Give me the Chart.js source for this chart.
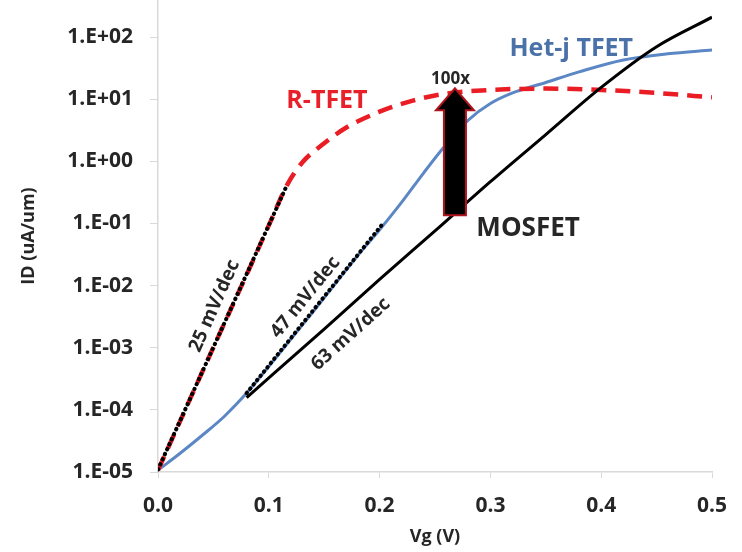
<!DOCTYPE html>
<html>
<head>
<meta charset="utf-8">
<title>ID vs Vg</title>
<script src="https://cdn.jsdelivr.net/npm/chart.js@4/dist/chart.umd.min.js"></script>
<style>
    body { margin: 0; background: #ffffff; }
    canvas { display: block; }
</style>
</head>
<body>
<canvas id="chart-idvg" width="742" height="552"></canvas>
<script>
// Values (Vg in V, ID in uA/um)
const rtfetVg = [0, 0.02, 0.04, 0.06, 0.08, 0.1, 0.116, 0.13, 0.15, 0.17, 0.2, 0.23, 0.26, 0.3, 0.35, 0.4, 0.45, 0.5];
const rtfetId = [1.07e-5, 6.6e-5, 4.1e-4, 2.5e-3, 1.5e-2, 9.3e-2, 0.40, 0.95, 1.95, 3.5, 6.3, 9.5, 12.3, 14.1, 14.8, 14.1, 12.6, 10.7];

const hetjVg = [0, 0.02, 0.04, 0.06, 0.08, 0.1, 0.12, 0.14, 0.16, 0.18, 0.2, 0.22, 0.24, 0.26, 0.28, 0.3, 0.32, 0.35, 0.38, 0.42, 0.46, 0.5];
const hetjId = [1.07e-5, 2.0e-5, 3.9e-5, 7.9e-5, 1.86e-4, 5.0e-4, 1.38e-3, 3.8e-3, 1.07e-2, 3.0e-2, 7.9e-2, 0.22, 0.66, 1.86, 4.6, 8.5, 12.6, 18.6, 27.5, 42.7, 53.7, 61.7];

const mosfetVg = [0.08, 0.15, 0.2, 0.25, 0.3, 0.35, 0.4, 0.45, 0.5];
const mosfetId = [1.58e-4, 2.0e-3, 1.26e-2, 7.6e-2, 0.47, 2.7, 15.5, 70, 209];

// slope fit lines (dotted)
const fit25Vg = [0, 0.116];
const fit25Id = [1.1e-5, 0.40];
const fit47Vg = [0.08, 0.203];
const fit47Id = [1.86e-4, 0.1];

// 100x arrow
const arrowVg = 0.268;
const arrowFromId = 0.135;
const arrowToId = 15;

const yTickValues = [1e-5, 1e-4, 1e-3, 1e-2, 1e-1, 1e0, 1e1, 1e2];

const fontFamily = "'Open Sans', 'Liberation Sans', sans-serif";
const textColor = "#262626";
const axisColor = "#d9d9d9";

function toPoints(xs, ys) {
    return xs.map((x, i) => ({ x: x, y: ys[i] }));
}

function formatExp(value) {
    const e = Math.round(Math.log10(value));
    return "1.E" + (e < 0 ? "-" : "+") + String(Math.abs(e)).padStart(2, "0");
}

// text labels placed in data space
const notes = [
    { text: "R-TFET", x: 0.1525, y: 9.3, color: "#e8202a", size: 25, angle: 0 },
    { text: "100x", x: 0.264, y: 21, color: textColor, size: 17, angle: 0 },
    { text: "Het-j TFET", x: 0.373, y: 64, color: "#4a72a8", size: 25, angle: 0 },
    { text: "MOSFET", x: 0.334, y: 0.083, color: textColor, size: 26, angle: 0 },
    { text: "25 mV/dec", x: 0.051, y: 4.7e-3, color: textColor, size: 19, angle: -66 },
    { text: "47 mV/dec", x: 0.133, y: 6.5e-3, color: textColor, size: 19, angle: -51 },
    { text: "63 mV/dec", x: 0.174, y: 1.66e-3, color: textColor, size: 19, angle: -42 }
];

const annotationPlugin = {
    id: "annotations",
    afterDatasetsDraw(chart) {
        const ctx = chart.ctx;
        const xScale = chart.scales.x;
        const yScale = chart.scales.y;

        // arrow
        const ax = xScale.getPixelForValue(arrowVg);
        const yTop = yScale.getPixelForValue(arrowToId);
        const yBottom = yScale.getPixelForValue(arrowFromId);
        const shaft = 11;
        const head = 19;
        const headLen = 22;
        ctx.save();
        ctx.beginPath();
        ctx.moveTo(ax - shaft, yBottom);
        ctx.lineTo(ax - shaft, yTop + headLen);
        ctx.lineTo(ax - head, yTop + headLen);
        ctx.lineTo(ax, yTop);
        ctx.lineTo(ax + head, yTop + headLen);
        ctx.lineTo(ax + shaft, yTop + headLen);
        ctx.lineTo(ax + shaft, yBottom);
        ctx.closePath();
        ctx.fillStyle = "#000000";
        ctx.fill();
        ctx.lineWidth = 2;
        ctx.strokeStyle = "#b0141c";
        ctx.stroke();
        ctx.restore();

        notes.forEach(note => {
            const px = xScale.getPixelForValue(note.x);
            const py = yScale.getPixelForValue(note.y);
            ctx.save();
            ctx.translate(px, py);
            ctx.rotate(note.angle * Math.PI / 180);
            ctx.font = "bold " + note.size + "px " + fontFamily;
            ctx.fillStyle = note.color;
            ctx.textAlign = "center";
            ctx.textBaseline = "middle";
            ctx.fillText(note.text, 0, 0);
            ctx.restore();
        });
    }
};

document.addEventListener("DOMContentLoaded", () => {
    const canvas = document.getElementById("chart-idvg").getContext("2d");

    const dottedStyle = {
        borderColor: "#000000",
        borderWidth: 4,
        borderDash: [0.5, 5],
        borderCapStyle: "round",
        pointRadius: 0,
        tension: 0
    };

    new Chart(canvas, {
        type: "line",
        data: {
            datasets: [
                { label: "25 mV/dec", data: toPoints(fit25Vg, fit25Id), ...dottedStyle },
                { label: "47 mV/dec", data: toPoints(fit47Vg, fit47Id), ...dottedStyle },
                {
                    label: "MOSFET",
                    data: toPoints(mosfetVg, mosfetId),
                    borderColor: "#000000",
                    borderWidth: 3,
                    pointRadius: 0,
                    cubicInterpolationMode: "monotone"
                },
                {
                    label: "R-TFET",
                    data: toPoints(rtfetVg, rtfetId),
                    borderColor: "#ea1c24",
                    borderWidth: 4.5,
                    borderDash: [15, 9],
                    pointRadius: 0,
                    cubicInterpolationMode: "monotone"
                },
                {
                    label: "Het-j TFET",
                    data: toPoints(hetjVg, hetjId),
                    borderColor: "#5b87c4",
                    borderWidth: 3,
                    pointRadius: 0,
                    cubicInterpolationMode: "monotone"
                }
            ]
        },
        options: {
            responsive: false,
            animation: false,
            devicePixelRatio: 1,
            layout: { padding: { left: 0, right: 30, top: 0, bottom: 0 } },
            plugins: {
                legend: { display: false },
                tooltip: { enabled: false }
            },
            scales: {
                x: {
                    type: "linear",
                    min: 0,
                    max: 0.5,
                    border: { color: axisColor, width: 1.5 },
                    grid: { drawOnChartArea: false, color: axisColor, tickLength: 6 },
                    ticks: {
                        stepSize: 0.1,
                        maxRotation: 0,
                        padding: 15,
                        color: textColor,
                        font: { family: fontFamily, size: 21, weight: "bold" },
                        callback: v => v.toFixed(1)
                    },
                    title: {
                        display: true,
                        text: "Vg (V)",
                        color: textColor,
                        padding: { top: 0, bottom: 4 },
                        font: { family: fontFamily, size: 18, weight: "bold" }
                    },
                    afterFit: scale => {
                        scale.height = 80;
                        scale.paddingLeft = 0;
                        scale.paddingRight = 0;
                    }
                },
                y: {
                    type: "logarithmic",
                    min: 1e-5,
                    max: 395,
                    border: { color: axisColor, width: 1.5 },
                    grid: { drawOnChartArea: false, color: axisColor, tickLength: 8 },
                    afterBuildTicks: scale => {
                        scale.ticks = yTickValues.map(v => ({ value: v }));
                    },
                    ticks: {
                        padding: 17,
                        color: textColor,
                        font: { family: fontFamily, size: 21, weight: "bold" },
                        callback: v => formatExp(v)
                    },
                    title: {
                        display: true,
                        text: "ID (uA/um)",
                        color: textColor,
                        padding: { top: 18, bottom: 0 },
                        font: { family: fontFamily, size: 18, weight: "bold" }
                    },
                    afterFit: scale => {
                        scale.width = 158;
                        scale.paddingTop = 0;
                        scale.paddingBottom = 0;
                    }
                }
            }
        },
        plugins: [annotationPlugin]
    });
});
</script>
</body>
</html>
